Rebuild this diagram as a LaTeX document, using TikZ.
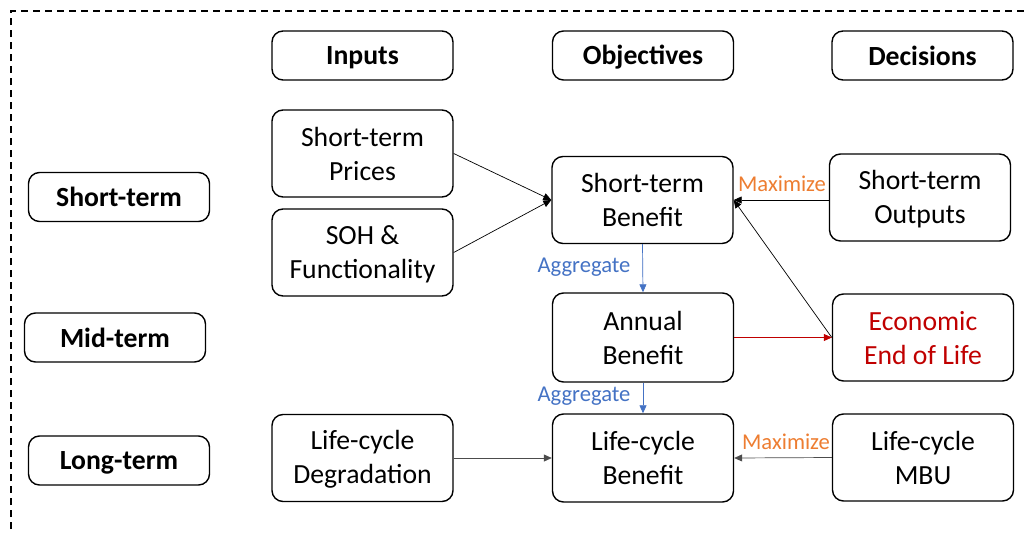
\documentclass[tikz,border=0pt]{standalone}
\usepackage{fontspec}
\setmainfont{Carlito}
\usetikzlibrary{arrows.meta}
\definecolor{accorange}{HTML}{ED7D31}
\definecolor{accblue}{HTML}{4472C4}
\definecolor{accred}{HTML}{C00000}
% line strut so every text line sits at the same height in its box
\newcommand\lnstrut{\rule[-3pt]{0pt}{25pt}}
\begin{document}
\begin{tikzpicture}[x=1pt,y=-1pt,
  box/.style={draw=black,line width=1.4pt,rounded corners=11pt,
    minimum width=181pt,minimum height=87pt,inner sep=0pt,align=center,
    font=\fontsize{27.7}{34}\selectfont},
  headbox/.style={box,minimum height=49pt,font=\fontsize{27.7}{34}\selectfont\bfseries},
  conn/.style={line width=0.7pt,-{Triangle[length=8pt,width=7pt]}},
  tag/.style={inner sep=0pt,font=\fontsize{22.6}{27}\selectfont}]
\useasboundingbox (0,0) rectangle (1025,533);
% dashed frame
\draw[line width=1.3pt,dash pattern=on 7pt off 5pt] (11,541) -- (11,11) -- (1040,11);

% column headers
\node[headbox] (inp) at (362.5,55.5) {\lnstrut Inputs};
\node[headbox] (obj) at (643,55.5) {\lnstrut Objectives};
\node[headbox] (dec) at (922.5,55.5) {\lnstrut Decisions};

% row headers
\node[headbox] (st) at (119,197) {\lnstrut Short-term};
\node[headbox] (mt) at (115,337.5) {\lnstrut Mid-term};
\node[headbox] (lt) at (119,460.5) {\lnstrut Long-term};

% inputs
\node[box] (sp) at (362.5,153.5) {\lnstrut Short-term\\\lnstrut Prices};
\node[box] (soh) at (362.5,252.5) {\lnstrut SOH \&\\\lnstrut Functionality};
\node[box] (lcd) at (362.5,458) {\lnstrut Life-cycle\\\lnstrut Degradation};

% objectives
\node[box] (sb) at (642.5,200) {\lnstrut Short-term\\\lnstrut Benefit};
\node[box,minimum height=89pt] (ab) at (643,337.5) {\lnstrut Annual\\\lnstrut Benefit};
\node[box,minimum height=88pt] (lcb) at (643,458) {\lnstrut Life-cycle\\\lnstrut Benefit};

% decisions
\node[box] (so) at (920,197.5) {\lnstrut Short-term\\\lnstrut Outputs};
\node[box,text=accred] (eol) at (923,337.5) {\lnstrut Economic\\\lnstrut End of Life};
\node[box] (mbu) at (923,457.5) {\lnstrut Life-cycle\\\lnstrut MBU};

% connectors
\draw[conn] (sp.east) -- (sb.west);
\draw[conn] (soh.east) -- (sb.west);
\draw[conn] (so.west |- sb.east) -- (sb.east);
\draw[conn] (eol.west) -- (sb.east);
\draw[conn,draw=accred,fill=accred] (ab.east) -- (eol.west);
\draw[conn,draw=accblue,fill=accblue] (sb.south) -- (ab.north);
\draw[conn,draw=accblue,fill=accblue] (ab.south) -- (lcb.north);
\draw[conn,draw=black!70] (lcd.east) -- (lcb.west);
\draw[conn,draw=black!70] (mbu.west) -- (lcb.east);

% connector labels
\node[tag,text=accorange] (max1) at (782,184) {Maximize};
\node[tag,text=accorange] (max2) at (786,442) {Maximize};
\node[tag,text=accblue] (agg1) at (584,267) {Aggregate};
\node[tag,text=accblue] (agg2) at (584,396) {Aggregate};
\end{tikzpicture}
\end{document}
